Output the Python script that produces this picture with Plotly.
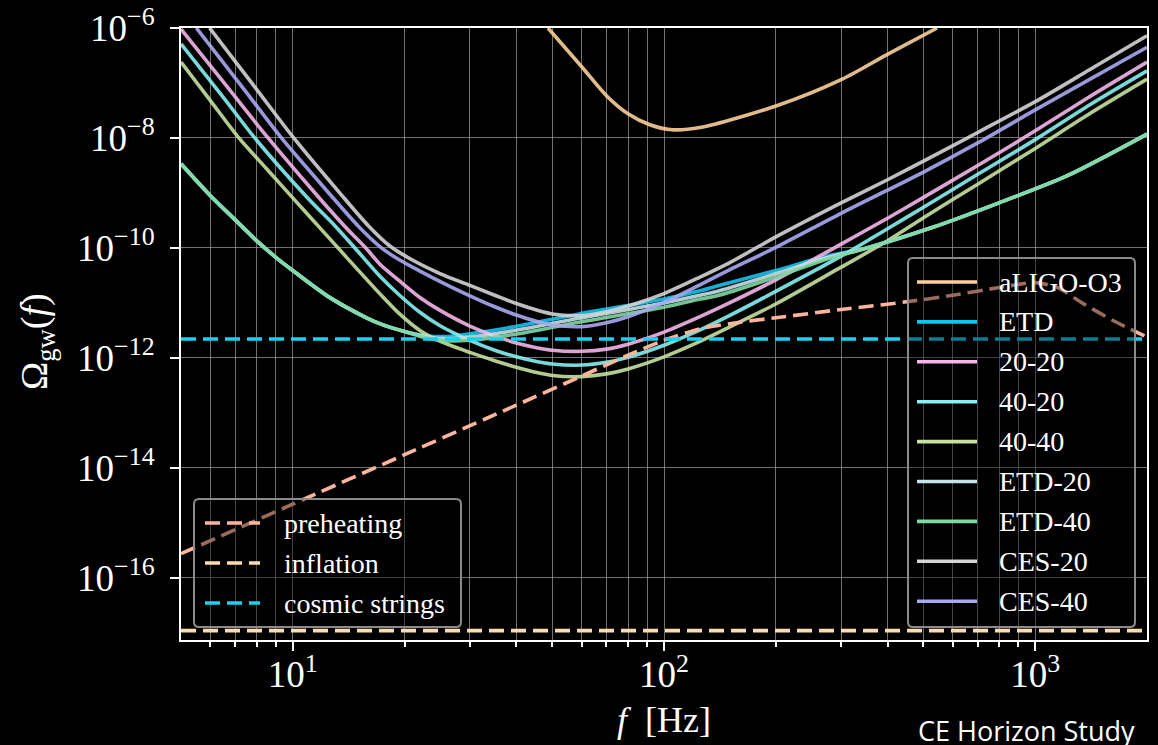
import numpy as np
import plotly.graph_objects as go

# ---------------------------------------------------------------------------
# Sensitivity curves: frequency [Hz] and log10(Omega_gw)
# ---------------------------------------------------------------------------
aligo_f = [48.7, 60.1, 70.2, 80.0, 91.6, 105.0, 125.0, 202.0, 302.0, 402.0, 544.0]
aligo_log = [-6.00, -6.71, -7.24, -7.56, -7.76, -7.85, -7.81, -7.41, -6.93, -6.47, -6.00]

# ET-D family: common low-frequency wall, split mid band, common high-frequency tail
et_low_f = [5.0, 6.0, 7.0, 8.0, 9.0, 10.0, 12.5, 15.8, 17.5, 20.0]
et_low_log = [-8.47, -9.05, -9.49, -9.87, -10.17, -10.41, -10.89, -11.27, -11.40, -11.52]
et_mid_f = [23.0, 26.0, 30.0, 39.0, 59.0, 100.0, 125.0, 139.0, 200.0, 270.0, 352.0]
etd_mid_log = [-11.60, -11.61, -11.56, -11.44, -11.20, -10.93, -10.78, -10.69, -10.41, -10.16, -10.00]
etd20_mid_log = [-11.62, -11.65, -11.62, -11.51, -11.28, -11.00, -10.86, -10.79, -10.47, -10.19, -10.00]
etd40_mid_log = [-11.64, -11.69, -11.68, -11.58, -11.35, -11.08, -10.93, -10.87, -10.53, -10.22, -10.00]
et_tail_f = [532.0, 805.0, 1216.0, 2000.0]
et_tail_log = [-9.62, -9.17, -8.69, -7.93]

ce2020_f = [5.0, 6.5, 8.58, 12.0, 14.0, 15.73, 17.2, 19.4, 22, 25, 30, 35, 40, 45, 50, 60, 70,
            80, 100, 125, 150, 200, 300, 400, 500, 700, 1000, 1400, 2000]
ce2020_log = [-6.02, -6.98, -8.00, -9.15, -9.65, -10.00, -10.30, -10.60, -10.90, -11.14,
              -11.42, -11.60, -11.73, -11.81, -11.86, -11.88, -11.84, -11.75, -11.53, -11.25,
              -11.00, -10.58, -9.93, -9.46, -9.08, -8.50, -7.87, -7.25, -6.62]

ce4020_f = [5.0, 6.5, 7.9, 11.0, 13.0, 14.7, 17.2, 19.4, 22, 25, 30, 35, 40, 45, 50, 60, 70,
            80, 100, 125, 150, 200, 300, 400, 500, 700, 1000, 1400, 2000]
ce4020_log = [-6.29, -7.26, -8.00, -9.10, -9.60, -10.00, -10.52, -10.86, -11.17, -11.42,
              -11.68, -11.86, -11.98, -12.06, -12.11, -12.13, -12.08, -11.99, -11.77, -11.49,
              -11.23, -10.79, -10.15, -9.65, -9.26, -8.66, -8.03, -7.40, -6.78]

ce4040_f = [5.0, 6.0, 7.12, 8.5, 10.0, 12.0, 14.0, 17.2, 19.4, 22, 25, 30, 35, 40, 45, 50, 60,
            70, 80, 100, 125, 150, 200, 300, 400, 500, 700, 1000, 1400, 2000]
ce4040_log = [-6.62, -7.32, -7.98, -8.56, -9.09, -9.68, -10.18, -10.84, -11.20, -11.50,
              -11.70, -11.90, -12.05, -12.17, -12.26, -12.32, -12.34, -12.29, -12.20, -11.98,
              -11.70, -11.44, -11.02, -10.35, -9.87, -9.45, -8.84, -8.19, -7.56, -6.93]

ces20_f = [5.97, 8.0, 10.06, 13.5, 16, 18.3, 21, 25, 30, 35, 40, 50, 60, 70, 85, 100, 125,
           150, 200, 300, 400, 500, 700, 1000, 1400, 2000]
ces20_log = [-6.00, -7.12, -8.00, -9.03, -9.60, -9.97, -10.22, -10.47, -10.68, -10.86,
             -11.01, -11.20, -11.23, -11.16, -11.00, -10.83, -10.53, -10.27, -9.80, -9.18,
             -8.76, -8.42, -7.90, -7.34, -6.76, -6.14]

ces40_f = [5.5, 7.5, 9.32, 12.5, 15, 17.2, 19.4, 22, 26, 30, 35, 40, 45, 50, 60, 70, 80, 100,
           125, 150, 200, 300, 400, 500, 700, 1000, 2000]
ces40_log = [-6.00, -7.17, -8.00, -9.00, -9.60, -9.98, -10.22, -10.42, -10.67, -10.87,
             -11.07, -11.22, -11.33, -11.40, -11.43, -11.36, -11.25, -10.99, -10.67, -10.40,
             -9.99, -9.37, -8.95, -8.62, -8.09, -7.49, -6.35]

# ---------------------------------------------------------------------------
# Stochastic background models: frequency [Hz] and log10(Omega_gw)
# ---------------------------------------------------------------------------
preheat_f = [5, 10, 20, 40, 60, 80, 100, 125, 160, 200, 300, 450, 600, 800, 1000, 1150,
             1330, 1620, 2000]
preheat_log = [-15.56, -14.66, -13.76, -12.86, -12.33, -11.95, -11.68, -11.47, -11.35,
               -11.27, -11.12, -10.98, -10.86, -10.72, -10.63, -10.72, -10.99, -11.32, -11.62]
inflation_f = [5, 2000]
inflation_log = [-16.96, -16.96]
strings_f = [5, 2000]
strings_log = [-11.655, -11.655]

# axis ticks
x_tick_vals = [10, 100, 1000]
x_tick_text = ["10<sup>1</sup>", "10<sup>2</sup>", "10<sup>3</sup>"]
x_minor_vals = [6, 7, 8, 9, 20, 30, 40, 50, 60, 70, 80, 90, 200, 300, 400, 500, 600, 700, 800, 900]
y_tick_exp = [-6, -8, -10, -12, -14, -16]

# ---------------------------------------------------------------------------
# styles
# ---------------------------------------------------------------------------
detectors = [
    ("aLIGO-O3", aligo_f, aligo_log, "#fbd09c"),
    ("ETD", et_low_f + et_mid_f + et_tail_f, et_low_log + etd_mid_log + et_tail_log, "#14c4ec"),
    ("20-20", ce2020_f, ce2020_log, "#f4b6ea"),
    ("40-20", ce4020_f, ce4020_log, "#86f0f2"),
    ("40-40", ce4040_f, ce4040_log, "#c6e2a0"),
    ("ETD-20", et_low_f + et_mid_f + et_tail_f, et_low_log + etd20_mid_log + et_tail_log, "#c6e2ea"),
    ("ETD-40", et_low_f + et_mid_f + et_tail_f, et_low_log + etd40_mid_log + et_tail_log, "#7ed9a2"),
    ("CES-20", ces20_f, ces20_log, "#d4d4d4"),
    ("CES-40", ces40_f, ces40_log, "#a9a9f2"),
]
models = [
    ("preheating", preheat_f, preheat_log, "#ffb59c"),
    ("inflation", inflation_f, inflation_log, "#ffdcae"),
    ("cosmic strings", strings_f, strings_log, "#16d2f2"),
]

SERIF = "Liberation Serif"
DASH = "15px,7px"
GRID = "rgba(150,150,150,0.75)"

fig = go.Figure()
for name, f, lg, col in detectors:
    fig.add_trace(go.Scatter(
        x=f, y=np.power(10.0, lg), name=name, mode="lines", opacity=0.9,
        line=dict(color=col, width=3.6, shape="spline", smoothing=0.8),
        showlegend=False, hoverinfo="skip"))
for name, f, lg, col in models:
    fig.add_trace(go.Scatter(
        x=f, y=np.power(10.0, lg), name=name, mode="lines",
        line=dict(color=col, width=3.6, dash=DASH, shape="spline", smoothing=0.6),
        showlegend=False, hoverinfo="skip"))

# ---------------------------------------------------------------------------
# page geometry (pixels) and hand-drawn legend boxes
# ---------------------------------------------------------------------------
W, H = 1158, 745
PL, PR, PT, PB = 181, 1147, 28, 640


def xp(px):
    return (px - PL) / (PR - PL)


def yp(py):
    return (PB - py) / (PB - PT)


def rounded_box(x0, y0, x1, y1, r=5):
    rx, ry = r / (PR - PL), r / (PB - PT)
    a0, a1, b0, b1 = xp(x0), xp(x1), yp(y1), yp(y0)
    return (f"M {a0+rx},{b0} L {a1-rx},{b0} Q {a1},{b0} {a1},{b0+ry} "
            f"L {a1},{b1-ry} Q {a1},{b1} {a1-rx},{b1} L {a0+rx},{b1} "
            f"Q {a0},{b1} {a0},{b1-ry} L {a0},{b0+ry} Q {a0},{b0} {a0+rx},{b0} Z")


shapes = []
annotations = []


def add_legend(items, box, first_y, step, line_x0, line_x1, text_x, dashed):
    shapes.append(dict(type="path", path=rounded_box(*box), xref="paper", yref="paper",
                       fillcolor="rgba(0,0,0,0.4)", line=dict(color="#8a8a8a", width=2),
                       layer="above"))
    for i, (name, _, _, col) in enumerate(items):
        y = first_y + i * step
        shapes.append(dict(type="line", xref="paper", yref="paper",
                           x0=xp(line_x0), x1=xp(line_x1), y0=yp(y), y1=yp(y),
                           line=dict(color=col, width=3.6,
                                     dash=DASH if dashed else "solid"),
                           layer="above"))
        annotations.append(dict(x=xp(text_x), y=yp(y), xref="paper", yref="paper",
                                text=name, showarrow=False, xanchor="left", yanchor="middle",
                                font=dict(family=SERIF, size=28, color="white")))


add_legend(models, (194, 499, 461, 627), 523, 40, 205, 260, 282, True)
add_legend(detectors, (908, 258, 1135, 627), 282, 39.9, 917, 977, 997, False)

# axis titles and credit line
annotations.append(dict(x=xp(37), y=yp(342), xref="paper", yref="paper", textangle=-90,
                        xanchor="center", yanchor="middle",
                        text="Ω<sub>gw</sub>(<i>f</i>)", showarrow=False,
                        font=dict(family=SERIF, size=38, color="white")))
annotations.append(dict(x=xp(664), y=yp(720), xref="paper", yref="paper",
                        xanchor="center", yanchor="middle",
                        text="<i>f</i>  [Hz]", showarrow=False,
                        font=dict(family=SERIF, size=36, color="white")))
annotations.append(dict(x=xp(916), y=yp(710), xref="paper", yref="paper",
                        text="CE Horizon Study", showarrow=False, xanchor="left", yanchor="top",
                        font=dict(family="Open Sans", size=27, color="white")))

axis_common = dict(
    type="log", showline=True, linecolor="white", linewidth=2, mirror=True,
    ticks="outside", ticklen=9, tickwidth=1.5, tickcolor="white",
    showgrid=True, gridcolor=GRID, gridwidth=1.2, zeroline=False, automargin=False,
    tickfont=dict(family=SERIF, size=37, color="white"),
)

fig.update_layout(
    width=W, height=H,
    margin=dict(l=PL, r=W - PR, t=PT, b=H - PB),
    paper_bgcolor="black", plot_bgcolor="black",
    showlegend=False,
    shapes=shapes, annotations=annotations,
    xaxis=dict(axis_common, range=[np.log10(5), np.log10(2000)],
               tickmode="array", tickvals=x_tick_vals, ticktext=x_tick_text,
               ticklabelstandoff=-8,
               minor=dict(tickmode="array", tickvals=x_minor_vals, ticks="outside",
                          ticklen=5, tickwidth=1.5, tickcolor="white",
                          showgrid=True, gridcolor=GRID, gridwidth=1.2)),
    yaxis=dict(axis_common, range=[-17.13, -6.0],
               tickmode="array", tickvals=[10.0 ** e for e in y_tick_exp],
               ticktext=[f"10<sup>−{-e}</sup>" for e in y_tick_exp],
               ticklabelstandoff=8),
)

fig.write_html("out.html")
